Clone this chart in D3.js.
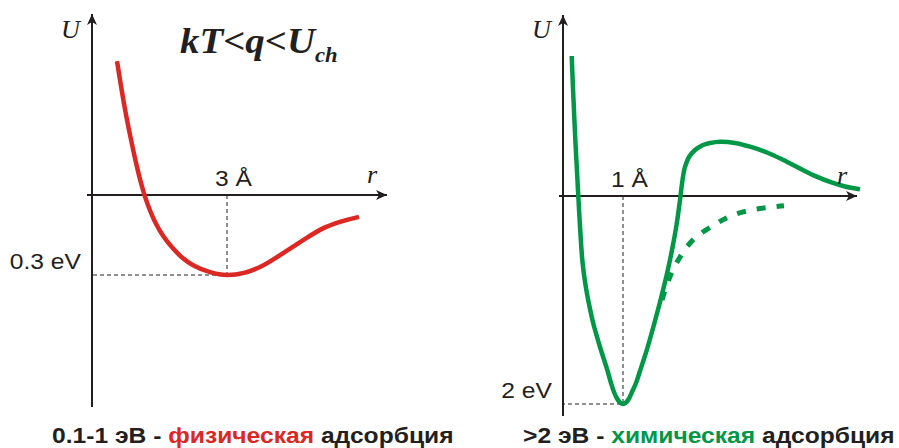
<!DOCTYPE html>
<html>
<head>
<meta charset="utf-8">
<script src="https://cdn.jsdelivr.net/npm/d3@7"></script>
<style>
  html, body { margin: 0; padding: 0; background: #fff; }
  svg { display: block; }
</style>
</head>
<body>
<svg id="chart" width="899" height="448"></svg>
<script>
// Physical adsorption potential: distance r (Å) vs energy U (eV)
const physR = [0.556, 0.644, 0.733, 0.822, 0.911, 1.0, 1.089, 1.178, 1.289, 1.422, 1.578, 1.778, 2.0, 2.267, 2.622, 3.0,
               3.378, 3.778, 4.222, 4.667, 5.111, 5.511, 5.933];
const physU = [0.502, 0.409, 0.322, 0.244, 0.172, 0.105, 0.045, -0.006, -0.058, -0.108, -0.153, -0.196, -0.234, -0.265, -0.289, -0.300,
               -0.292, -0.266, -0.221, -0.172, -0.127, -0.101, -0.082];

// Chemical adsorption potential with activation barrier
const chemR = [0.145, 0.165, 0.187, 0.208, 0.232, 0.255, 0.287, 0.325, 0.375, 0.433, 0.505, 0.617,
               0.733, 0.8, 0.85, 0.9, 0.95, 1.0, 1.05, 1.1, 1.15, 1.217, 1.283,
               1.392, 1.505, 1.617, 1.728, 1.817, 1.892, 1.95, 1.992, 2.033, 2.1, 2.2, 2.317, 2.45, 2.617,
               2.867, 3.117, 3.4, 3.672, 3.95, 4.228, 4.45, 4.7, 4.95];
const chemU = [1.346, 1.058, 0.769, 0.510, 0.250, 0.0, -0.327, -0.635, -0.856, -1.038, -1.226, -1.452,
               -1.663, -1.798, -1.885, -1.947, -1.986, -2.0, -1.986, -1.947, -1.885, -1.798, -1.683,
               -1.490, -1.260, -1.019, -0.760, -0.519, -0.279, -0.038, 0.154, 0.279, 0.375, 0.442, 0.486, 0.510, 0.522,
               0.510, 0.474, 0.418, 0.346, 0.264, 0.186, 0.135, 0.091, 0.064];

// Chemisorption branch without the barrier (dashed)
const chemDashR = [1.65, 1.767, 1.95, 2.183, 2.517, 2.833, 3.233, 3.683];
const chemDashU = [-1.0, -0.798, -0.587, -0.413, -0.279, -0.183, -0.125, -0.093];

// Marked equilibrium points and labels
const physMin = { r: 3, U: -0.3, rLabel: "3", uLabel: "0.3 eV" };
const chemMin = { r: 1, U: -2, rLabel: "1", uLabel: "2 eV" };

const RED = "#dc2723";
const GREEN = "#009846";
const INK = "#231f20";
const SANS = "Liberation Sans, Arial, sans-serif";
const SERIF = "Liberation Serif, Times New Roman, serif";
const STRETCH = 1.12; // lettering is set slightly wide

const svg = d3.select("#chart");

// arrow heads for the axes
const defs = svg.append("defs");
defs.append("marker")
  .attr("id", "arrow")
  .attr("markerUnits", "userSpaceOnUse")
  .attr("viewBox", "-12 -6 13 12")
  .attr("refX", 0).attr("refY", 0)
  .attr("markerWidth", 13).attr("markerHeight", 12)
  .attr("orient", "auto")
  .append("path")
  .attr("d", "M0,0 L-11,-5 L-8,0 L-11,5 Z")
  .attr("fill", INK);

// text placed at (x, y) and widened horizontally
function label(g, x, y, opts) {
  const t = g.append("text")
    .attr("transform", `translate(${x},${y}) scale(${opts.stretch || STRETCH},1)`)
    .attr("font-family", opts.family || SANS)
    .attr("font-size", opts.size)
    .attr("fill", opts.fill || INK);
  if (opts.anchor) t.attr("text-anchor", opts.anchor);
  if (opts.italic) t.attr("font-style", "italic");
  if (opts.bold) t.attr("font-weight", "bold");
  return t;
}

function panel(cfg) {
  const g = svg.append("g");
  const x = d3.scaleLinear().domain([0, 1]).range([cfg.ox, cfg.ox + cfg.kx]);
  const y = d3.scaleLinear().domain([0, 1]).range([cfg.oy, cfg.oy - cfg.ky]);

  // axes
  g.append("line")
    .attr("x1", cfg.ox).attr("x2", cfg.ox)
    .attr("y1", cfg.bottom).attr("y2", cfg.top)
    .attr("stroke", INK).attr("stroke-width", 2)
    .attr("marker-end", "url(#arrow)");
  g.append("line")
    .attr("x1", cfg.left).attr("x2", cfg.right)
    .attr("y1", cfg.oy).attr("y2", cfg.oy)
    .attr("stroke", INK).attr("stroke-width", 2)
    .attr("marker-end", "url(#arrow)");

  // guide lines to the well minimum
  const m = cfg.min;
  g.append("path")
    .attr("d", `M${x(m.r)},${y(0)}V${y(m.U)}H${x(0)}`)
    .attr("fill", "none")
    .attr("stroke", INK).attr("stroke-width", 1)
    .attr("stroke-dasharray", "4,3");

  const line = d3.line()
    .x(d => x(d[0])).y(d => y(d[1]))
    .curve(d3.curveCatmullRom.alpha(0.5));

  cfg.curves.forEach(c => {
    g.append("path")
      .datum(d3.zip(c.r, c.U))
      .attr("d", line)
      .attr("fill", "none")
      .attr("stroke", c.color)
      .attr("stroke-width", c.width)
      .attr("stroke-dasharray", c.dash || null)
      .attr("stroke-linecap", "butt")
      .attr("stroke-linejoin", "round");
  });

  // axis titles
  label(g, cfg.ox - 31, 38, { family: SERIF, italic: true, size: 25, stretch: 1.05 }).text("U");
  label(g, cfg.right - 20, cfg.oy - 12, { family: SERIF, italic: true, size: 25, stretch: 1.05 }).text("r");

  // distance label
  label(g, x(m.r) - 12, cfg.oy - 9, { size: 22 }).text(m.rLabel + " Å");

  // energy label
  label(g, x(0) - 11, y(m.U) - 6, { size: 22, anchor: "end" }).text(m.uLabel);

  // caption
  const cap = label(g, cfg.capX, 443, { size: 22, bold: true });
  cap.append("tspan").text(cfg.caption[0]);
  cap.append("tspan").attr("fill", cfg.capColor).text(cfg.caption[1]);
  cap.append("tspan").text(cfg.caption[2]);
}

panel({
  ox: 92, oy: 195, kx: 45, ky: 266.7,
  left: 87, right: 387, top: 14, bottom: 407,
  min: physMin,
  curves: [{ r: physR, U: physU, color: RED, width: 4.5 }],
  capX: 52, capColor: RED,
  caption: ["0.1-1 эВ - ", "физическая", " адсорбция"]
});

panel({
  ox: 563, oy: 196, kx: 60, ky: 104,
  left: 559, right: 857, top: 15, bottom: 416,
  min: chemMin,
  curves: [
    { r: chemR, U: chemU, color: GREEN, width: 4.5 },
    { r: chemDashR, U: chemDashU, color: GREEN, width: 5, dash: "9,11" }
  ],
  capX: 523, capColor: GREEN,
  caption: [">2 эВ - ", "химическая", " адсорбция"]
});

// regime condition
const cond = label(svg, 180, 53, { family: SERIF, italic: true, bold: true, size: 36, stretch: 1.08 });
cond.append("tspan").text("kT<q<U");
cond.append("tspan").attr("font-size", 21).attr("dy", 9).text("ch");
</script>
</body>
</html>
